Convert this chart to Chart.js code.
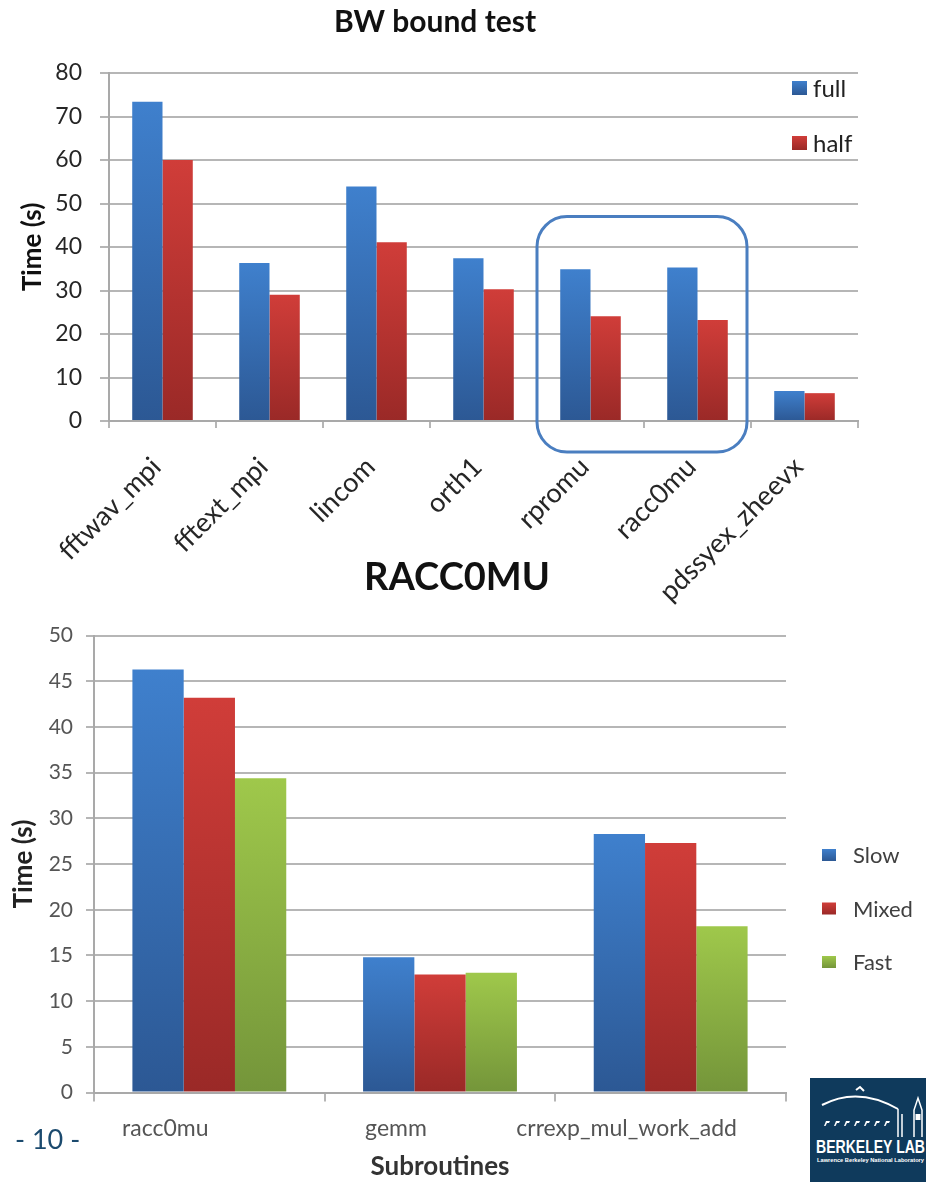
<!DOCTYPE html>
<html>
<head>
<meta charset="utf-8">
<title>BW bound test / RACC0MU</title>
<script src="https://cdn.jsdelivr.net/npm/chart.js@4.4.1/dist/chart.umd.min.js"></script>
<style>
  html, body { margin: 0; padding: 0; background: #fff; }
  body { width: 926px; height: 1182px; position: relative; overflow: hidden; font-family: Lato, "Open Sans", sans-serif; }
  #bw { position: absolute; left: 0; top: 0; }
  #racc { position: absolute; left: 0; top: 545px; }
  .page-num { position: absolute; left: 15px; top: 1123px; font: 27px/32px Lato, sans-serif; color: #1b4a6e; white-space: pre; }
  .logo { position: absolute; left: 810px; top: 1078px; }
</style>
</head>
<body>
<canvas id="bw" width="870" height="610"></canvas>
<canvas id="racc" width="914" height="637"></canvas>
<div class="page-num">- 10 -</div>
<svg class="logo" width="116" height="104" viewBox="0 0 116 104">
  <rect width="116" height="104" fill="#0f3a5c"/>
  <path d="M12 27 Q 48 8 88 31" stroke="#fff" stroke-width="2" fill="none"/>
  <path d="M46 12 L50 9 L54 13" stroke="#fff" stroke-width="2" fill="none"/>
  <path d="M88 31 L88 59 M92 59 L92 36" stroke="#fff" stroke-width="1.5" fill="none"/>
  <path d="M104 59 L104 32 L108 20 L112 32 L112 59" stroke="#fff" stroke-width="1.5" fill="none"/>
  <path d="M105.5 36 h5 v6 h-5 z" fill="#fff"/>
  <g fill="#fff">
    <path d="M14 48 l2 -5 h4 l-1 2 h-2 l-1.5 3 z"/>
    <path d="M24 48 l2 -5 h4 l-1 2 h-2 l-1.5 3 z"/>
    <path d="M34 48 l2 -5 h4 l-1 2 h-2 l-1.5 3 z"/>
    <path d="M44 48 l2 -5 h4 l-1 2 h-2 l-1.5 3 z"/>
    <path d="M54 48 l2 -5 h4 l-1 2 h-2 l-1.5 3 z"/>
    <path d="M64 48 l2 -5 h4 l-1 2 h-2 l-1.5 3 z"/>
    <path d="M74 48 l2 -5 h4 l-1 2 h-2 l-1.5 3 z"/>
  </g>
  <text x="6" y="75" fill="#fff" font-family="Liberation Sans, Arial, sans-serif" font-weight="bold" font-size="19" textLength="109" lengthAdjust="spacingAndGlyphs">BERKELEY LAB</text>
  <text x="7" y="84" fill="#fff" font-family="Liberation Sans, Arial, sans-serif" font-weight="bold" font-size="6" textLength="107" lengthAdjust="spacingAndGlyphs">Lawrence Berkeley National Laboratory</text>
</svg>

<script>
// ---- BW bound test: run time per kernel, full vs. half ----
const bwCategories = ['fftwav_mpi', 'fftext_mpi', 'lincom', 'orth1', 'rpromu', 'racc0mu', 'pdssyex_zheevx'];
const bwFull = [73.4, 36.3, 53.9, 37.4, 34.9, 35.3, 6.9];
const bwHalf = [60.0, 29.0, 41.1, 30.3, 24.1, 23.2, 6.4];
const bwTicks = [0, 10, 20, 30, 40, 50, 60, 70, 80];
const bwHighlight = ['rpromu', 'racc0mu'];

// ---- RACC0MU: subroutine timings for Slow / Mixed / Fast ----
const raccCategories = ['racc0mu', 'gemm', 'crrexp_mul_work_add'];
const raccSlow = [46.3, 14.8, 28.3];
const raccMixed = [43.2, 12.9, 27.3];
const raccFast = [34.4, 13.1, 18.2];
const raccTicks = [0, 5, 10, 15, 20, 25, 30, 35, 40, 45, 50];

// light (top) -> dark (bottom) shading for each series colour
const palette = {
  blue:  ['#3f80cd', '#2c5894'],
  red:   ['#d03d39', '#9a2927'],
  green: ['#9fc84b', '#74953a'],
};

Chart.defaults.font.family = 'Lato, "Open Sans", sans-serif';

// each bar gets its own vertical gradient from its top down to the baseline
function barFill(pair) {
  return (c) => {
    const chart = c.chart;
    if (!chart.chartArea || c.raw == null) return pair[1];
    const ys = chart.scales.y;
    const top = ys.getPixelForValue(c.raw);
    const base = ys.getPixelForValue(0);
    const g = chart.ctx.createLinearGradient(0, top, 0, base);
    g.addColorStop(0, pair[0]);
    g.addColorStop(1, pair[1]);
    return g;
  };
}

// vertical legend drawn at a fixed spot of the canvas
const cornerLegend = {
  id: 'cornerLegend',
  afterDraw(chart, args, o) {
    const ctx = chart.ctx;
    ctx.save();
    chart.data.datasets.forEach((ds, i) => {
      const cy = o.y + i * o.gap;
      const h = o.box[1];
      const g = ctx.createLinearGradient(0, cy - h / 2, 0, cy + h / 2);
      g.addColorStop(0, o.colors[i][0]);
      g.addColorStop(1, o.colors[i][1]);
      ctx.fillStyle = g;
      ctx.fillRect(o.x, cy - h / 2, o.box[0], h);
      ctx.fillStyle = o.color;
      ctx.font = o.font;
      ctx.textBaseline = 'middle';
      ctx.textAlign = 'left';
      ctx.fillText(ds.label, o.x + o.textGap, cy + o.textDy);
    });
    ctx.restore();
  }
};

// rounded frame around a group of categories
const highlightBox = {
  id: 'highlightBox',
  afterDraw(chart, args, o) {
    const xs = chart.scales.x, ys = chart.scales.y;
    const labels = chart.data.labels;
    const i0 = labels.indexOf(o.from), i1 = labels.indexOf(o.to);
    const half = (xs.getPixelForValue(1) - xs.getPixelForValue(0)) / 2;
    const l = xs.getPixelForValue(i0) - half + o.inset[0];
    const r = xs.getPixelForValue(i1) + half - o.inset[1];
    const t = ys.getPixelForValue(o.top);
    const b = ys.getPixelForValue(0) + o.below;
    const rad = o.radius;
    const ctx = chart.ctx;
    ctx.save();
    ctx.beginPath();
    ctx.moveTo(l + rad, t);
    ctx.arcTo(r, t, r, b, rad);
    ctx.arcTo(r, b, l, b, rad);
    ctx.arcTo(l, b, l, t, rad);
    ctx.arcTo(l, t, r, t, rad);
    ctx.closePath();
    ctx.strokeStyle = o.color;
    ctx.lineWidth = o.width;
    ctx.stroke();
    ctx.restore();
  }
};

// empty right-hand gutter axis: reserves room on the right without shrinking the title band
function gutter(width) {
  return {
    type: 'linear', position: 'right', display: true,
    grid: { display: false, drawTicks: false }, border: { display: false },
    ticks: { display: false },
    afterFit: (s) => { s.width = width; }
  };
}

const gridColor = '#b6b6b6';
const axisColor = '#a9a9a9';

new Chart(document.getElementById('bw'), {
  type: 'bar',
  data: {
    labels: bwCategories,
    datasets: [
      { label: 'full', data: bwFull, backgroundColor: barFill(palette.blue) },
      { label: 'half', data: bwHalf, backgroundColor: barFill(palette.red) }
    ]
  },
  options: {
    responsive: false,
    animation: false,
    layout: { padding: 0 },
    datasets: { bar: { categoryPercentage: 0.566, barPercentage: 1.0 } },
    plugins: {
      legend: { display: false },
      tooltip: { enabled: false },
      title: {
        display: true, text: 'BW bound test', color: '#111',
        font: { size: 30, weight: 'bold' }, padding: { top: 4, bottom: 33 }
      },
      cornerLegend: {
        x: 792, y: 88, gap: 55, box: [15, 14], textGap: 21, textDy: 1,
        font: '24px Lato, sans-serif', color: '#222',
        colors: [palette.blue, palette.red]
      },
      highlightBox: {
        from: bwHighlight[0], to: bwHighlight[1], top: 47, below: 31,
        inset: [0, 4], radius: 30, color: '#4a7ec0', width: 3
      }
    },
    scales: {
      x: {
        grid: { drawOnChartArea: false, drawTicks: true, tickLength: 7, color: gridColor, lineWidth: 2 },
        border: { color: axisColor, width: 2 },
        ticks: { minRotation: 45, maxRotation: 45, autoSkip: false, padding: 23, labelOffset: -6, font: { size: 27 }, color: '#262626' },
        afterFit: (s) => { s.height = 189; }
      },
      y: {
        min: 0, max: 80,
        afterBuildTicks: (s) => { s.ticks = bwTicks.map(v => ({ value: v })); },
        ticks: { padding: 18, font: { size: 23 }, color: '#262626' },
        grid: { color: gridColor, lineWidth: 2, tickLength: 9 },
        border: { color: axisColor, width: 2 },
        title: { display: true, text: 'Time (s)', color: '#111', font: { size: 26, weight: 'bold' }, padding: { top: 17 } },
        afterFit: (s) => { s.width = 109; }
      },
      gutter: gutter(12)
    }
  },
  plugins: [cornerLegend, highlightBox]
});

new Chart(document.getElementById('racc'), {
  type: 'bar',
  data: {
    labels: raccCategories,
    datasets: [
      { label: 'Slow', data: raccSlow, backgroundColor: barFill(palette.blue) },
      { label: 'Mixed', data: raccMixed, backgroundColor: barFill(palette.red) },
      { label: 'Fast', data: raccFast, backgroundColor: barFill(palette.green) }
    ]
  },
  options: {
    responsive: false,
    animation: false,
    layout: { padding: 0 },
    datasets: { bar: { categoryPercentage: 0.667, barPercentage: 1.0 } },
    plugins: {
      legend: { display: false },
      tooltip: { enabled: false },
      title: {
        display: true, text: 'RACC0MU', color: '#111',
        font: { size: 38, weight: 'bold' }, padding: { top: 10, bottom: 35 }
      },
      cornerLegend: {
        x: 822, y: 310, gap: 53.5, box: [14, 12], textGap: 31, textDy: 1,
        font: '22px Lato, sans-serif', color: '#404040',
        colors: [palette.blue, palette.red, palette.green]
      }
    },
    scales: {
      x: {
        grid: { drawOnChartArea: false, drawTicks: true, tickLength: 9, color: gridColor, lineWidth: 2 },
        border: { color: axisColor, width: 2 },
        ticks: { maxRotation: 0, minRotation: 0, autoSkip: false, padding: 13, labelOffset: -44, font: { size: 23 }, color: '#555' },
        title: { display: true, text: 'Subroutines', color: '#333', font: { size: 26, weight: 'bold' }, padding: { top: 0, bottom: 0 } },
        afterFit: (s) => { s.height = 89.5; }
      },
      y: {
        min: 0, max: 50,
        afterBuildTicks: (s) => { s.ticks = raccTicks.map(v => ({ value: v })); },
        ticks: { padding: 13, font: { size: 21 }, color: '#555' },
        grid: { color: gridColor, lineWidth: 2, tickLength: 8 },
        border: { color: axisColor, width: 2 },
        title: { display: true, text: 'Time (s)', color: '#222', font: { size: 26, weight: 'bold' }, padding: { top: 8 } },
        afterFit: (s) => { s.width = 94; }
      },
      gutter: gutter(128)
    }
  },
  plugins: [cornerLegend]
});
</script>
</body>
</html>
